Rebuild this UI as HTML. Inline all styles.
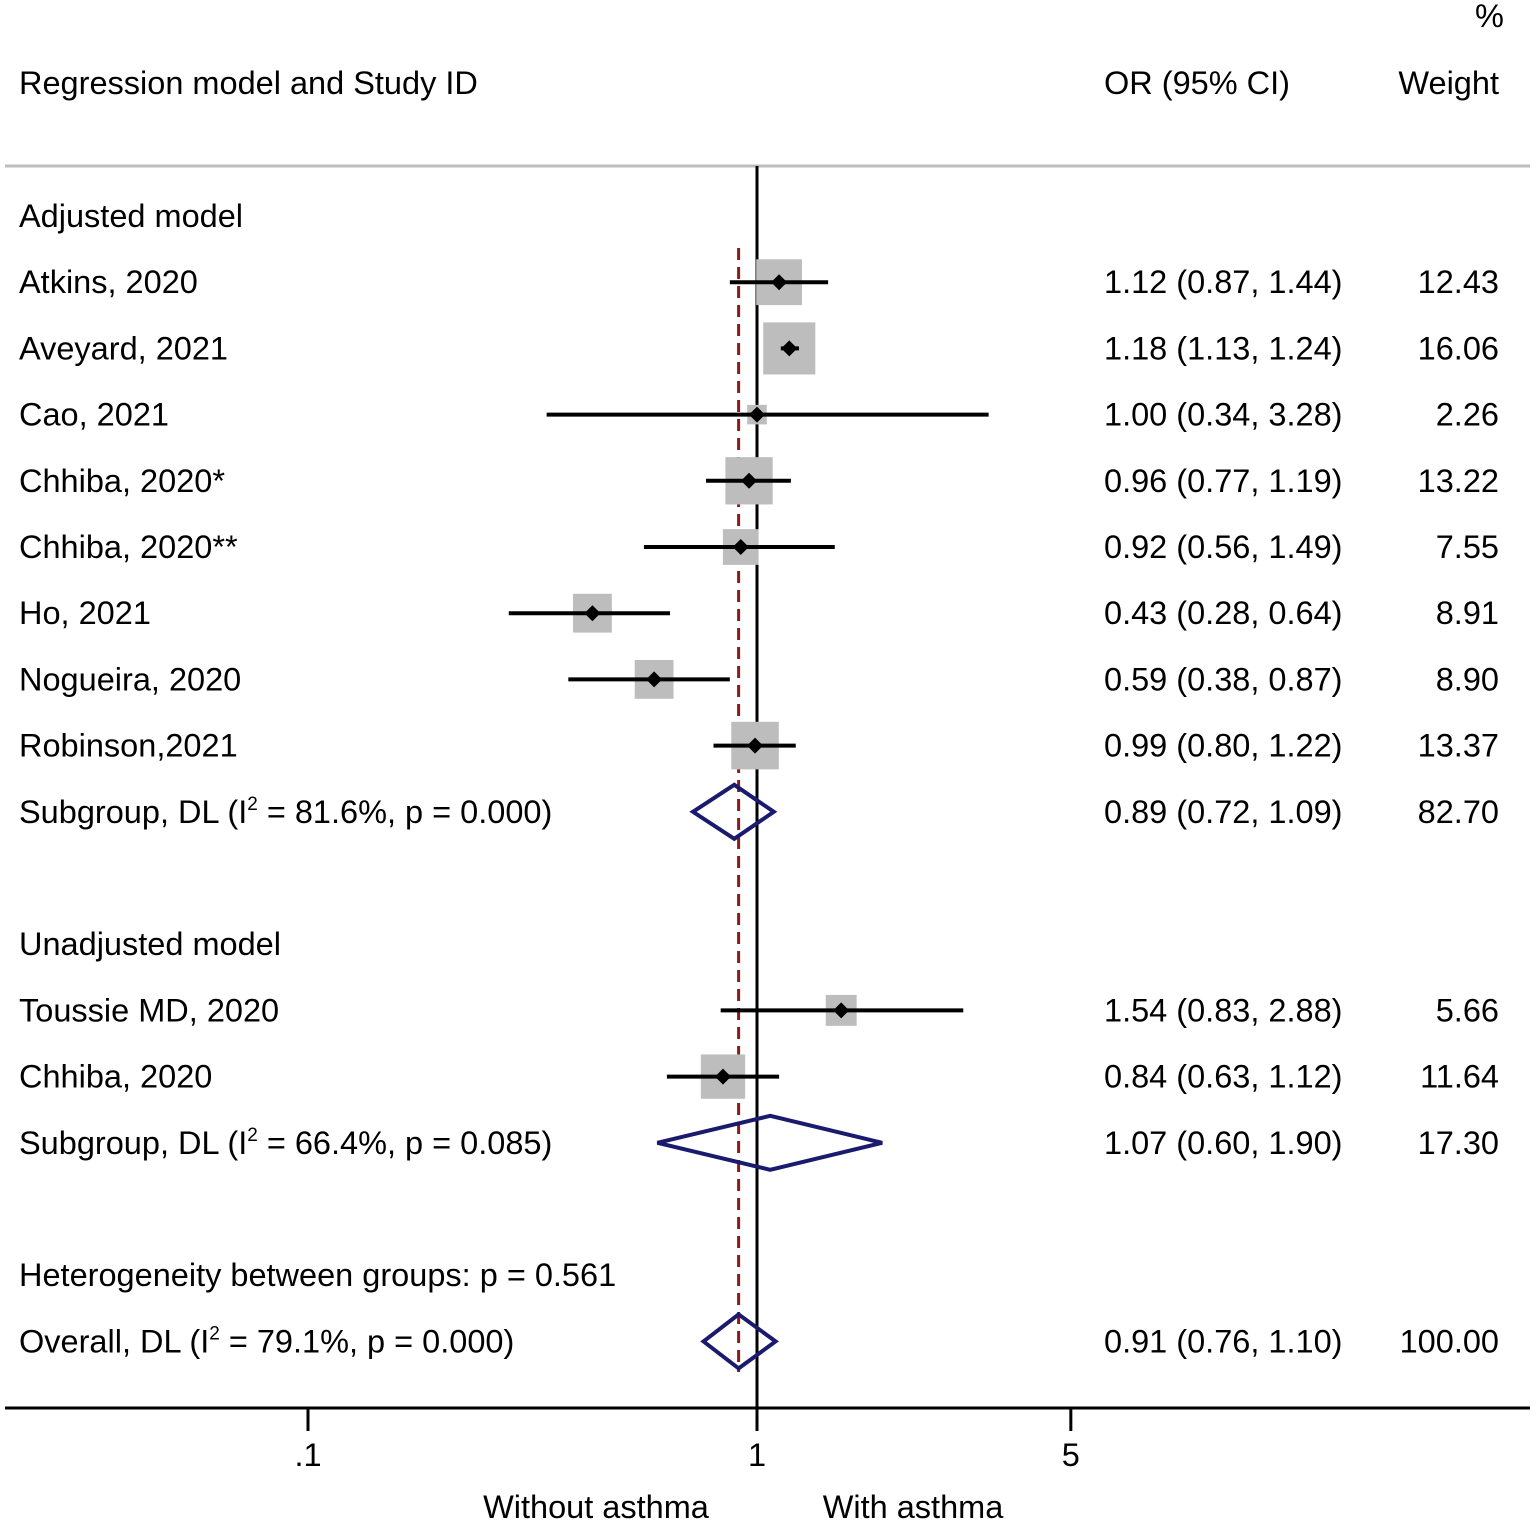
<!DOCTYPE html>
<html><head><meta charset="utf-8">
<style>
body{margin:0;background:#fff;}
svg text{font-family:"Liberation Sans",Arial,sans-serif;font-size:32.5px;fill:#000;}
</style></head>
<body>
<svg id="chart" width="1536" height="1525" viewBox="0 0 1536 1525" xmlns="http://www.w3.org/2000/svg">
<text x="1475" y="27">%</text>
<text x="19" y="94">Regression model and Study ID</text>
<text x="1104" y="94">OR (95% CI)</text>
<text x="1499" y="94" text-anchor="end">Weight</text>
<line x1="5" y1="166" x2="1530" y2="166" stroke="#bdbdbd" stroke-width="3"/>
<g id="marks"></g>
<g id="labels"></g>
</svg>
<script>
const labels=["Adjusted model","Atkins, 2020","Aveyard, 2021","Cao, 2021","Chhiba, 2020*","Chhiba, 2020**","Ho, 2021","Nogueira, 2020","Robinson,2021","SUB1","","Unadjusted model","Toussie MD, 2020","Chhiba, 2020","SUB2","","Heterogeneity between groups: p = 0.561","OVERALL"];
const kinds=["head","study","study","study","study","study","study","study","study","diamond","","head","study","study","diamond","","head","diamond"];
const ors=[null,1.12,1.18,1.00,0.96,0.92,0.43,0.59,0.99,0.89,null,null,1.54,0.84,1.07,null,null,0.91];
const lows=[null,0.87,1.13,0.34,0.77,0.56,0.28,0.38,0.80,0.72,null,null,0.83,0.63,0.60,null,null,0.76];
const highs=[null,1.44,1.24,3.28,1.19,1.49,0.64,0.87,1.22,1.09,null,null,2.88,1.12,1.90,null,null,1.10];
const weights=[null,12.43,16.06,2.26,13.22,7.55,8.91,8.90,13.37,82.70,null,null,5.66,11.64,17.30,null,null,100.00];
const hetI2=["81.6%","66.4%","79.1%"];
const hetP=["0.000","0.085","0.000"];
const diamondNames=["Subgroup, DL","Subgroup, DL","Overall, DL"];
const ticks=[0.1,1,5];
const tickLabels=[".1","1","5"];
const pooledOR=0.91;

const NS="http://www.w3.org/2000/svg";
const X=v=>757+449*Math.log10(v);
const Y=i=>216+66.2*i;
const M=document.getElementById('marks'),L=document.getElementById('labels');
function mk(tag,at,par){const e=document.createElementNS(NS,tag);for(const k in at)e.setAttribute(k,at[k]);par.appendChild(e);return e;}
let e=mk('line',{x1:757,y1:166,x2:757,y2:1408,stroke:'#000','stroke-width':3},M);


e=mk('line',{x1:X(pooledOR),y1:248,x2:X(pooledOR),y2:1372,stroke:'#8b1a1a','stroke-width':3,'stroke-dasharray':'12,7'},M);


let di=0;
kinds.forEach((k,i)=>{
  const y=Y(i);
  if(k==="head"){
    const t=mk('text',{x:19,y:y+11},L);t.textContent=labels[i];
    
    
  } else if(k==="study"){
    const s=13*Math.sqrt(weights[i]);
    const b=mk('rect',{x:X(ors[i])-s/2,y:y-s/2,width:s,height:s,fill:'#bdbdbd'},M);
    
    
    const l=mk('line',{x1:X(lows[i]),y1:y,x2:X(highs[i]),y2:y,stroke:'#000','stroke-width':4},M);
    
    
    const x=X(ors[i]);
    const p=mk('polygon',{points:`${x-8},${y} ${x},${y-8} ${x+8},${y} ${x},${y+8}`,fill:'#000'},M);
    
    
    const t=mk('text',{x:19,y:y+11},L);t.textContent=labels[i];
    
    
  } else if(k==="diamond"){
    const x0=X(lows[i]),x1=X(highs[i]),xc=X(ors[i]);
    const d=mk('polygon',{points:`${x0},${y} ${xc},${y-27} ${x1},${y} ${xc},${y+27}`,fill:'none',stroke:'#1a1a6e','stroke-width':4},M);
    
    
    const t=mk('text',{x:19,y:y+11},L);
    t.innerHTML=`${diamondNames[di]} (I<tspan dy="-13" font-size="19">2</tspan><tspan dy="13"> = ${hetI2[di]}, p = ${hetP[di]})</tspan>`;
    
    
    di++;
  }
  if(ors[i]!==null){
    const t=mk('text',{x:1104,y:y+11},L);t.textContent=`${ors[i].toFixed(2)} (${lows[i].toFixed(2)}, ${highs[i].toFixed(2)})`;
    
    
    const w=mk('text',{x:1499,y:y+11,'text-anchor':'end'},L);w.textContent=weights[i].toFixed(2);
    
    
  }
});
e=mk('line',{x1:5,y1:1408,x2:1530,y2:1408,stroke:'#000','stroke-width':3},M);


ticks.forEach((v,i)=>{
  const t=mk('line',{x1:X(v),y1:1408,x2:X(v),y2:1431,stroke:'#000','stroke-width':3},M);
  
  
  const l=mk('text',{x:X(v),y:1466,'text-anchor':'middle'},L);l.textContent=tickLabels[i];
  
  
});
e=mk('text',{x:596,y:1518,'text-anchor':'middle'},L);e.textContent="Without asthma";


e=mk('text',{x:913,y:1518,'text-anchor':'middle'},L);e.textContent="With asthma";


</script>
</body></html>
